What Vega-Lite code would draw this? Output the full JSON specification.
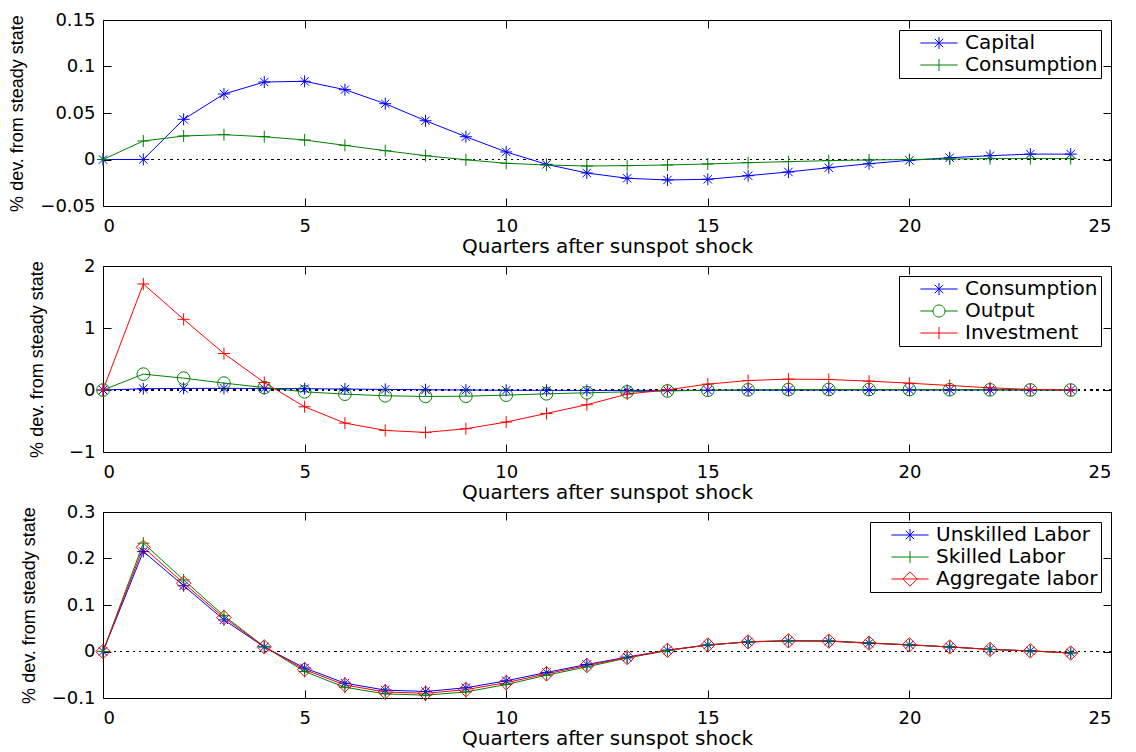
{
"$schema": "https://vega.github.io/schema/vega-lite/v6.json",
"padding": {"left": 8, "top": 10, "right": 5, "bottom": 2},
"spacing": -1,
"resolve": {"scale": {"color": "independent", "x": "independent", "y": "independent"}, "legend": {"color": "independent"}},
"config": {
  "view": {"stroke": "black", "strokeWidth": 1},
  "axis": {"labelFont": "DejaVu Sans", "labelFontSize": 18, "labelColor": "black", "tickColor": "black", "tickSize": -8, "domain": false, "grid": false, "titleColor": "black", "titleFontWeight": "normal", "format": ".2~f"},
  "axisX": {"titleFont": "DejaVu Sans", "titleFontSize": 20, "labelPadding": 19, "titlePadding": 1},
  "axisY": {"titleFont": "Liberation Sans", "titleFontSize": 18, "labelPadding": 16},
  "legend": {"orient": "top-right", "offset": 10, "padding": 3, "strokeColor": "black", "fillColor": "white", "labelFont": "DejaVu Sans", "labelFontSize": 20, "labelColor": "black", "symbolSize": 144, "symbolOffset": 27, "labelOffset": 16, "rowPadding": 2, "symbolStrokeWidth": 1, "labelLimit": 400, "title": null}
},
"vconcat": [
{
  "width": 1008, "height": 186,
  "data": {"values": [
{"t":0,"s":"Capital","v":0},{"t":1,"s":"Capital","v":0},{"t":2,"s":"Capital","v":0.0432},{"t":3,"s":"Capital","v":0.0704},{"t":4,"s":"Capital","v":0.0833},{"t":5,"s":"Capital","v":0.0841},{"t":6,"s":"Capital","v":0.0751},{"t":7,"s":"Capital","v":0.060},{"t":8,"s":"Capital","v":0.0417},{"t":9,"s":"Capital","v":0.0245},{"t":10,"s":"Capital","v":0.0081},{"t":11,"s":"Capital","v":-0.0052},{"t":12,"s":"Capital","v":-0.0145},{"t":13,"s":"Capital","v":-0.0202},{"t":14,"s":"Capital","v":-0.022},{"t":15,"s":"Capital","v":-0.0213},{"t":16,"s":"Capital","v":-0.0174},{"t":17,"s":"Capital","v":-0.0134},{"t":18,"s":"Capital","v":-0.0088},{"t":19,"s":"Capital","v":-0.0045},{"t":20,"s":"Capital","v":-0.0009},{"t":21,"s":"Capital","v":0.0019},{"t":22,"s":"Capital","v":0.0041},{"t":23,"s":"Capital","v":0.0058},{"t":24,"s":"Capital","v":0.0058},
{"t":0,"s":"Consumption","v":0},{"t":1,"s":"Consumption","v":0.0199},{"t":2,"s":"Consumption","v":0.0253},{"t":3,"s":"Consumption","v":0.0267},{"t":4,"s":"Consumption","v":0.0245},{"t":5,"s":"Consumption","v":0.021},{"t":6,"s":"Consumption","v":0.0152},{"t":7,"s":"Consumption","v":0.0095},{"t":8,"s":"Consumption","v":0.0041},{"t":9,"s":"Consumption","v":-0.0003},{"t":10,"s":"Consumption","v":-0.0041},{"t":11,"s":"Consumption","v":-0.0059},{"t":12,"s":"Consumption","v":-0.007},{"t":13,"s":"Consumption","v":-0.0066},{"t":14,"s":"Consumption","v":-0.0059},{"t":15,"s":"Consumption","v":-0.0048},{"t":16,"s":"Consumption","v":-0.0034},{"t":17,"s":"Consumption","v":-0.0023},{"t":18,"s":"Consumption","v":-0.0012},{"t":19,"s":"Consumption","v":-0.0005},{"t":20,"s":"Consumption","v":0},{"t":21,"s":"Consumption","v":0.0005},{"t":22,"s":"Consumption","v":0.001},{"t":23,"s":"Consumption","v":0.001},{"t":24,"s":"Consumption","v":0.001}
  ]},
  "layer": [
    {"mark": {"type": "rule", "color": "black", "strokeDash": [1.5, 4.8], "strokeWidth": 1},
     "encoding": {"y": {"datum": 0, "type": "quantitative", "scale": {"domain": [-0.05, 0.15], "nice": false}, "axis": null}}},
    {"mark": {"type": "line", "strokeWidth": 1},
     "encoding": {
       "x": {"field": "t", "type": "quantitative", "scale": {"domain": [0, 25], "nice": false}, "axis": {"values": [0,5,10,15,20,25], "title": "Quarters after sunspot shock"}},
       "y": {"field": "v", "type": "quantitative", "scale": {"domain": [-0.05, 0.15], "nice": false, "zero": false}, "axis": {"values": [-0.05,0,0.05,0.1,0.15], "title": "% dev. from steady state", "titlePadding": 13}},
       "color": {"field": "s", "type": "nominal", "scale": {"domain": ["Capital","Consumption"], "range": ["#0000ff","#008000"]},
         "legend": {"encode": {"symbols": {"update": {"shape": {"signal": "datum.value === 'Capital' ? 'M-3.1,0H3.1M0,-1V1M-0.7,-0.7L0.7,0.7M-0.7,0.7L0.7,-0.7' : 'M-3.1,0H3.1M0,-1V1'"}, "size": {"value": 144}, "fill": {"value": "transparent"}, "strokeWidth": {"value": 1}}}}}}
     }},
    {"transform": [{"filter": "datum.s === 'Capital'"}],
     "mark": {"type": "point", "shape": "M-1,0H1M0,-1V1M-0.7,-0.7L0.7,0.7M-0.7,0.7L0.7,-0.7", "filled": false, "strokeWidth": 1, "size": 144, "opacity": 1},
     "encoding": {
       "x": {"field": "t", "type": "quantitative", "scale": {"domain": [0, 25], "nice": false}, "axis": null},
       "y": {"field": "v", "type": "quantitative", "scale": {"domain": [-0.05, 0.15], "nice": false, "zero": false}, "axis": null},
       "color": {"field": "s", "type": "nominal", "scale": {"domain": ["Capital","Consumption"], "range": ["#0000ff","#008000"]},
         "legend": {"encode": {"symbols": {"update": {"shape": {"signal": "datum.value === 'Capital' ? 'M-3.1,0H3.1M0,-1V1M-0.7,-0.7L0.7,0.7M-0.7,0.7L0.7,-0.7' : 'M-3.1,0H3.1M0,-1V1'"}, "size": {"value": 144}, "fill": {"value": "transparent"}, "strokeWidth": {"value": 1}}}}}}
     }},
    {"transform": [{"filter": "datum.s === 'Consumption'"}],
     "mark": {"type": "point", "shape": "M-1,0H1M0,-1V1", "filled": false, "strokeWidth": 1, "size": 144, "opacity": 1},
     "encoding": {
       "x": {"field": "t", "type": "quantitative", "scale": {"domain": [0, 25], "nice": false}, "axis": null},
       "y": {"field": "v", "type": "quantitative", "scale": {"domain": [-0.05, 0.15], "nice": false, "zero": false}, "axis": null},
       "color": {"field": "s", "type": "nominal", "scale": {"domain": ["Capital","Consumption"], "range": ["#0000ff","#008000"]},
         "legend": {"encode": {"symbols": {"update": {"shape": {"signal": "datum.value === 'Capital' ? 'M-3.1,0H3.1M0,-1V1M-0.7,-0.7L0.7,0.7M-0.7,0.7L0.7,-0.7' : 'M-3.1,0H3.1M0,-1V1'"}, "size": {"value": 144}, "fill": {"value": "transparent"}, "strokeWidth": {"value": 1}}}}}}
     }},
    {"mark": {"type": "point", "opacity": 0},
     "encoding": {
       "x": {"field": "t", "type": "quantitative", "scale": {"domain": [0, 25], "nice": false}, "axis": {"orient": "top", "values": [0,5,10,15,20,25], "labels": false, "title": null}},
       "y": {"field": "v", "type": "quantitative", "scale": {"domain": [-0.05, 0.15], "nice": false, "zero": false}, "axis": {"orient": "right", "values": [-0.05,0,0.05,0.1,0.15], "labels": false, "title": null}}
     }}
  ],
  "resolve": {"axis": {"x": "independent", "y": "independent"}}
},
{
  "width": 1008, "height": 186,
  "data": {"values": [
{"t":0,"s":"Consumption","v":0},{"t":1,"s":"Consumption","v":0.0199},{"t":2,"s":"Consumption","v":0.0253},{"t":3,"s":"Consumption","v":0.0267},{"t":4,"s":"Consumption","v":0.0245},{"t":5,"s":"Consumption","v":0.021},{"t":6,"s":"Consumption","v":0.0152},{"t":7,"s":"Consumption","v":0.0095},{"t":8,"s":"Consumption","v":0.0041},{"t":9,"s":"Consumption","v":-0.0003},{"t":10,"s":"Consumption","v":-0.0041},{"t":11,"s":"Consumption","v":-0.0059},{"t":12,"s":"Consumption","v":-0.007},{"t":13,"s":"Consumption","v":-0.0066},{"t":14,"s":"Consumption","v":-0.0059},{"t":15,"s":"Consumption","v":-0.0048},{"t":16,"s":"Consumption","v":-0.0034},{"t":17,"s":"Consumption","v":-0.0023},{"t":18,"s":"Consumption","v":-0.0012},{"t":19,"s":"Consumption","v":-0.0005},{"t":20,"s":"Consumption","v":0},{"t":21,"s":"Consumption","v":0.0005},{"t":22,"s":"Consumption","v":0.001},{"t":23,"s":"Consumption","v":0.001},{"t":24,"s":"Consumption","v":0.001},
{"t":0,"s":"Output","v":0},{"t":1,"s":"Output","v":0.256},{"t":2,"s":"Output","v":0.191},{"t":3,"s":"Output","v":0.111},{"t":4,"s":"Output","v":0.04},{"t":5,"s":"Output","v":-0.029},{"t":6,"s":"Output","v":-0.067},{"t":7,"s":"Output","v":-0.093},{"t":8,"s":"Output","v":-0.104},{"t":9,"s":"Output","v":-0.1},{"t":10,"s":"Output","v":-0.083},{"t":11,"s":"Output","v":-0.061},{"t":12,"s":"Output","v":-0.045},{"t":13,"s":"Output","v":-0.03},{"t":14,"s":"Output","v":-0.015},{"t":15,"s":"Output","v":-0.005},{"t":16,"s":"Output","v":0.003},{"t":17,"s":"Output","v":0.006},{"t":18,"s":"Output","v":0.008},{"t":19,"s":"Output","v":0.008},{"t":20,"s":"Output","v":0.007},{"t":21,"s":"Output","v":0.005},{"t":22,"s":"Output","v":0.003},{"t":23,"s":"Output","v":0.001},{"t":24,"s":"Output","v":0},
{"t":0,"s":"Investment","v":0},{"t":1,"s":"Investment","v":1.71},{"t":2,"s":"Investment","v":1.14},{"t":3,"s":"Investment","v":0.588},{"t":4,"s":"Investment","v":0.12},{"t":5,"s":"Investment","v":-0.27},{"t":6,"s":"Investment","v":-0.534},{"t":7,"s":"Investment","v":-0.652},{"t":8,"s":"Investment","v":-0.684},{"t":9,"s":"Investment","v":-0.625},{"t":10,"s":"Investment","v":-0.517},{"t":11,"s":"Investment","v":-0.378},{"t":12,"s":"Investment","v":-0.238},{"t":13,"s":"Investment","v":-0.066},{"t":14,"s":"Investment","v":0.003},{"t":15,"s":"Investment","v":0.095},{"t":16,"s":"Investment","v":0.153},{"t":17,"s":"Investment","v":0.175},{"t":18,"s":"Investment","v":0.17},{"t":19,"s":"Investment","v":0.143},{"t":20,"s":"Investment","v":0.11},{"t":21,"s":"Investment","v":0.073},{"t":22,"s":"Investment","v":0.035},{"t":23,"s":"Investment","v":0.01},{"t":24,"s":"Investment","v":0}
  ]},
  "layer": [
    {"mark": {"type": "rule", "color": "black", "strokeDash": [1.5, 4.8], "strokeWidth": 1},
     "encoding": {"y": {"datum": 0, "type": "quantitative", "scale": {"domain": [-1, 2], "nice": false}, "axis": null}}},
    {"mark": {"type": "line", "strokeWidth": 1},
     "encoding": {
       "x": {"field": "t", "type": "quantitative", "scale": {"domain": [0, 25], "nice": false}, "axis": {"values": [0,5,10,15,20,25], "title": "Quarters after sunspot shock"}},
       "y": {"field": "v", "type": "quantitative", "scale": {"domain": [-1, 2], "nice": false, "zero": false}, "axis": {"values": [-1,0,1,2], "title": "% dev. from steady state", "titlePadding": 22}},
       "color": {"field": "s", "type": "nominal", "scale": {"domain": ["Consumption","Output","Investment"], "range": ["#0000ff","#008000","#ff0000"]},
         "legend": {"encode": {"symbols": {"update": {"shape": {"signal": "datum.value === 'Consumption' ? 'M-3.1,0H3.1M0,-1V1M-0.7,-0.7L0.7,0.7M-0.7,0.7L0.7,-0.7' : datum.value === 'Output' ? 'M-3.1,0H-1M1,0H3.1M-1,0A1,1 0 1,1 1,0A1,1 0 1,1 -1,0' : 'M-3.1,0H3.1M0,-1V1'"}, "size": {"value": 144}, "fill": {"value": "transparent"}, "strokeWidth": {"value": 1}}}}}}
     }},
    {"transform": [{"filter": "datum.s === 'Consumption'"}],
     "mark": {"type": "point", "shape": "M-1,0H1M0,-1V1M-0.7,-0.7L0.7,0.7M-0.7,0.7L0.7,-0.7", "filled": false, "strokeWidth": 1, "size": 144, "opacity": 1},
     "encoding": {
       "x": {"field": "t", "type": "quantitative", "scale": {"domain": [0, 25], "nice": false}, "axis": null},
       "y": {"field": "v", "type": "quantitative", "scale": {"domain": [-1, 2], "nice": false, "zero": false}, "axis": null},
       "color": {"field": "s", "type": "nominal", "scale": {"domain": ["Consumption","Output","Investment"], "range": ["#0000ff","#008000","#ff0000"]},
         "legend": {"encode": {"symbols": {"update": {"shape": {"signal": "datum.value === 'Consumption' ? 'M-3.1,0H3.1M0,-1V1M-0.7,-0.7L0.7,0.7M-0.7,0.7L0.7,-0.7' : datum.value === 'Output' ? 'M-3.1,0H-1M1,0H3.1M-1,0A1,1 0 1,1 1,0A1,1 0 1,1 -1,0' : 'M-3.1,0H3.1M0,-1V1'"}, "size": {"value": 144}, "fill": {"value": "transparent"}, "strokeWidth": {"value": 1}}}}}}
     }},
    {"transform": [{"filter": "datum.s === 'Output'"}],
     "mark": {"type": "point", "shape": "circle", "filled": false, "strokeWidth": 1, "size": 160, "opacity": 1},
     "encoding": {
       "x": {"field": "t", "type": "quantitative", "scale": {"domain": [0, 25], "nice": false}, "axis": null},
       "y": {"field": "v", "type": "quantitative", "scale": {"domain": [-1, 2], "nice": false, "zero": false}, "axis": null},
       "color": {"field": "s", "type": "nominal", "scale": {"domain": ["Consumption","Output","Investment"], "range": ["#0000ff","#008000","#ff0000"]},
         "legend": {"encode": {"symbols": {"update": {"shape": {"signal": "datum.value === 'Consumption' ? 'M-3.1,0H3.1M0,-1V1M-0.7,-0.7L0.7,0.7M-0.7,0.7L0.7,-0.7' : datum.value === 'Output' ? 'M-3.1,0H-1M1,0H3.1M-1,0A1,1 0 1,1 1,0A1,1 0 1,1 -1,0' : 'M-3.1,0H3.1M0,-1V1'"}, "size": {"value": 144}, "fill": {"value": "transparent"}, "strokeWidth": {"value": 1}}}}}}
     }},
    {"transform": [{"filter": "datum.s === 'Investment'"}],
     "mark": {"type": "point", "shape": "M-1,0H1M0,-1V1", "filled": false, "strokeWidth": 1, "size": 144, "opacity": 1},
     "encoding": {
       "x": {"field": "t", "type": "quantitative", "scale": {"domain": [0, 25], "nice": false}, "axis": null},
       "y": {"field": "v", "type": "quantitative", "scale": {"domain": [-1, 2], "nice": false, "zero": false}, "axis": null},
       "color": {"field": "s", "type": "nominal", "scale": {"domain": ["Consumption","Output","Investment"], "range": ["#0000ff","#008000","#ff0000"]},
         "legend": {"encode": {"symbols": {"update": {"shape": {"signal": "datum.value === 'Consumption' ? 'M-3.1,0H3.1M0,-1V1M-0.7,-0.7L0.7,0.7M-0.7,0.7L0.7,-0.7' : datum.value === 'Output' ? 'M-3.1,0H-1M1,0H3.1M-1,0A1,1 0 1,1 1,0A1,1 0 1,1 -1,0' : 'M-3.1,0H3.1M0,-1V1'"}, "size": {"value": 144}, "fill": {"value": "transparent"}, "strokeWidth": {"value": 1}}}}}}
     }},
    {"mark": {"type": "point", "opacity": 0},
     "encoding": {
       "x": {"field": "t", "type": "quantitative", "scale": {"domain": [0, 25], "nice": false}, "axis": {"orient": "top", "values": [0,5,10,15,20,25], "labels": false, "title": null}},
       "y": {"field": "v", "type": "quantitative", "scale": {"domain": [-1, 2], "nice": false, "zero": false}, "axis": {"orient": "right", "values": [-1,0,1,2], "labels": false, "title": null}}
     }}
  ],
  "resolve": {"axis": {"x": "independent", "y": "independent"}}
},
{
  "width": 1008, "height": 186,
  "data": {"values": [
{"t":0,"s":"Unskilled Labor","v":0},{"t":1,"s":"Unskilled Labor","v":0.215},{"t":2,"s":"Unskilled Labor","v":0.1415},{"t":3,"s":"Unskilled Labor","v":0.068},{"t":4,"s":"Unskilled Labor","v":0.0097},{"t":5,"s":"Unskilled Labor","v":-0.0355},{"t":6,"s":"Unskilled Labor","v":-0.068},{"t":7,"s":"Unskilled Labor","v":-0.083},{"t":8,"s":"Unskilled Labor","v":-0.086},{"t":9,"s":"Unskilled Labor","v":-0.078},{"t":10,"s":"Unskilled Labor","v":-0.063},{"t":11,"s":"Unskilled Labor","v":-0.045},{"t":12,"s":"Unskilled Labor","v":-0.028},{"t":13,"s":"Unskilled Labor","v":-0.012},{"t":14,"s":"Unskilled Labor","v":0.003},{"t":15,"s":"Unskilled Labor","v":0.014},{"t":16,"s":"Unskilled Labor","v":0.0205},{"t":17,"s":"Unskilled Labor","v":0.0228},{"t":18,"s":"Unskilled Labor","v":0.0222},{"t":19,"s":"Unskilled Labor","v":0.0178},{"t":20,"s":"Unskilled Labor","v":0.0142},{"t":21,"s":"Unskilled Labor","v":0.0098},{"t":22,"s":"Unskilled Labor","v":0.0046},{"t":23,"s":"Unskilled Labor","v":0.0014},{"t":24,"s":"Unskilled Labor","v":-0.003},
{"t":0,"s":"Skilled Labor","v":0},{"t":1,"s":"Skilled Labor","v":0.233},{"t":2,"s":"Skilled Labor","v":0.154},{"t":3,"s":"Skilled Labor","v":0.077},{"t":4,"s":"Skilled Labor","v":0.0105},{"t":5,"s":"Skilled Labor","v":-0.043},{"t":6,"s":"Skilled Labor","v":-0.077},{"t":7,"s":"Skilled Labor","v":-0.091},{"t":8,"s":"Skilled Labor","v":-0.094},{"t":9,"s":"Skilled Labor","v":-0.087},{"t":10,"s":"Skilled Labor","v":-0.071},{"t":11,"s":"Skilled Labor","v":-0.051},{"t":12,"s":"Skilled Labor","v":-0.033},{"t":13,"s":"Skilled Labor","v":-0.014},{"t":14,"s":"Skilled Labor","v":0.002},{"t":15,"s":"Skilled Labor","v":0.014},{"t":16,"s":"Skilled Labor","v":0.021},{"t":17,"s":"Skilled Labor","v":0.0235},{"t":18,"s":"Skilled Labor","v":0.023},{"t":19,"s":"Skilled Labor","v":0.0185},{"t":20,"s":"Skilled Labor","v":0.0145},{"t":21,"s":"Skilled Labor","v":0.0098},{"t":22,"s":"Skilled Labor","v":0.0045},{"t":23,"s":"Skilled Labor","v":0.0012},{"t":24,"s":"Skilled Labor","v":-0.0033},
{"t":0,"s":"Aggregate labor","v":0},{"t":1,"s":"Aggregate labor","v":0.224},{"t":2,"s":"Aggregate labor","v":0.147},{"t":3,"s":"Aggregate labor","v":0.073},{"t":4,"s":"Aggregate labor","v":0.01},{"t":5,"s":"Aggregate labor","v":-0.039},{"t":6,"s":"Aggregate labor","v":-0.072},{"t":7,"s":"Aggregate labor","v":-0.087},{"t":8,"s":"Aggregate labor","v":-0.09},{"t":9,"s":"Aggregate labor","v":-0.082},{"t":10,"s":"Aggregate labor","v":-0.067},{"t":11,"s":"Aggregate labor","v":-0.048},{"t":12,"s":"Aggregate labor","v":-0.03},{"t":13,"s":"Aggregate labor","v":-0.013},{"t":14,"s":"Aggregate labor","v":0.0025},{"t":15,"s":"Aggregate labor","v":0.014},{"t":16,"s":"Aggregate labor","v":0.0207},{"t":17,"s":"Aggregate labor","v":0.023},{"t":18,"s":"Aggregate labor","v":0.0225},{"t":19,"s":"Aggregate labor","v":0.018},{"t":20,"s":"Aggregate labor","v":0.0143},{"t":21,"s":"Aggregate labor","v":0.0098},{"t":22,"s":"Aggregate labor","v":0.0045},{"t":23,"s":"Aggregate labor","v":0.0013},{"t":24,"s":"Aggregate labor","v":-0.0032}
  ]},
  "layer": [
    {"mark": {"type": "rule", "color": "black", "strokeDash": [1.5, 4.8], "strokeWidth": 1},
     "encoding": {"y": {"datum": 0, "type": "quantitative", "scale": {"domain": [-0.1, 0.3], "nice": false}, "axis": null}}},
    {"mark": {"type": "line", "strokeWidth": 1},
     "encoding": {
       "x": {"field": "t", "type": "quantitative", "scale": {"domain": [0, 25], "nice": false}, "axis": {"values": [0,5,10,15,20,25], "title": "Quarters after sunspot shock"}},
       "y": {"field": "v", "type": "quantitative", "scale": {"domain": [-0.1, 0.3], "nice": false, "zero": false}, "axis": {"values": [-0.1,0,0.1,0.2,0.3], "title": "% dev. from steady state", "titlePadding": 13}},
       "color": {"field": "s", "type": "nominal", "scale": {"domain": ["Unskilled Labor","Skilled Labor","Aggregate labor"], "range": ["#0000ff","#008000","#ff0000"]},
         "legend": {"encode": {"symbols": {"update": {"shape": {"signal": "datum.value === 'Unskilled Labor' ? 'M-3.1,0H3.1M0,-1V1M-0.7,-0.7L0.7,0.7M-0.7,0.7L0.7,-0.7' : datum.value === 'Skilled Labor' ? 'M-3.1,0H3.1M0,-1V1' : 'M-3.1,0H3.1M0,-1.2L1.2,0L0,1.2L-1.2,0Z'"}, "size": {"value": 144}, "fill": {"value": "transparent"}, "strokeWidth": {"value": 1}}}}}}
     }},
    {"transform": [{"filter": "datum.s === 'Unskilled Labor'"}],
     "mark": {"type": "point", "shape": "M-1,0H1M0,-1V1M-0.7,-0.7L0.7,0.7M-0.7,0.7L0.7,-0.7", "filled": false, "strokeWidth": 1, "size": 144, "opacity": 1},
     "encoding": {
       "x": {"field": "t", "type": "quantitative", "scale": {"domain": [0, 25], "nice": false}, "axis": null},
       "y": {"field": "v", "type": "quantitative", "scale": {"domain": [-0.1, 0.3], "nice": false, "zero": false}, "axis": null},
       "color": {"field": "s", "type": "nominal", "scale": {"domain": ["Unskilled Labor","Skilled Labor","Aggregate labor"], "range": ["#0000ff","#008000","#ff0000"]},
         "legend": {"encode": {"symbols": {"update": {"shape": {"signal": "datum.value === 'Unskilled Labor' ? 'M-3.1,0H3.1M0,-1V1M-0.7,-0.7L0.7,0.7M-0.7,0.7L0.7,-0.7' : datum.value === 'Skilled Labor' ? 'M-3.1,0H3.1M0,-1V1' : 'M-3.1,0H3.1M0,-1.2L1.2,0L0,1.2L-1.2,0Z'"}, "size": {"value": 144}, "fill": {"value": "transparent"}, "strokeWidth": {"value": 1}}}}}}
     }},
    {"transform": [{"filter": "datum.s === 'Skilled Labor'"}],
     "mark": {"type": "point", "shape": "M-1,0H1M0,-1V1", "filled": false, "strokeWidth": 1, "size": 144, "opacity": 1},
     "encoding": {
       "x": {"field": "t", "type": "quantitative", "scale": {"domain": [0, 25], "nice": false}, "axis": null},
       "y": {"field": "v", "type": "quantitative", "scale": {"domain": [-0.1, 0.3], "nice": false, "zero": false}, "axis": null},
       "color": {"field": "s", "type": "nominal", "scale": {"domain": ["Unskilled Labor","Skilled Labor","Aggregate labor"], "range": ["#0000ff","#008000","#ff0000"]},
         "legend": {"encode": {"symbols": {"update": {"shape": {"signal": "datum.value === 'Unskilled Labor' ? 'M-3.1,0H3.1M0,-1V1M-0.7,-0.7L0.7,0.7M-0.7,0.7L0.7,-0.7' : datum.value === 'Skilled Labor' ? 'M-3.1,0H3.1M0,-1V1' : 'M-3.1,0H3.1M0,-1.2L1.2,0L0,1.2L-1.2,0Z'"}, "size": {"value": 144}, "fill": {"value": "transparent"}, "strokeWidth": {"value": 1}}}}}}
     }},
    {"transform": [{"filter": "datum.s === 'Aggregate labor'"}],
     "mark": {"type": "point", "shape": "M0,-1.2L1.2,0L0,1.2L-1.2,0Z", "filled": false, "strokeWidth": 1, "size": 144, "opacity": 1},
     "encoding": {
       "x": {"field": "t", "type": "quantitative", "scale": {"domain": [0, 25], "nice": false}, "axis": null},
       "y": {"field": "v", "type": "quantitative", "scale": {"domain": [-0.1, 0.3], "nice": false, "zero": false}, "axis": null},
       "color": {"field": "s", "type": "nominal", "scale": {"domain": ["Unskilled Labor","Skilled Labor","Aggregate labor"], "range": ["#0000ff","#008000","#ff0000"]},
         "legend": {"encode": {"symbols": {"update": {"shape": {"signal": "datum.value === 'Unskilled Labor' ? 'M-3.1,0H3.1M0,-1V1M-0.7,-0.7L0.7,0.7M-0.7,0.7L0.7,-0.7' : datum.value === 'Skilled Labor' ? 'M-3.1,0H3.1M0,-1V1' : 'M-3.1,0H3.1M0,-1.2L1.2,0L0,1.2L-1.2,0Z'"}, "size": {"value": 144}, "fill": {"value": "transparent"}, "strokeWidth": {"value": 1}}}}}}
     }},
    {"mark": {"type": "point", "opacity": 0},
     "encoding": {
       "x": {"field": "t", "type": "quantitative", "scale": {"domain": [0, 25], "nice": false}, "axis": {"orient": "top", "values": [0,5,10,15,20,25], "labels": false, "title": null}},
       "y": {"field": "v", "type": "quantitative", "scale": {"domain": [-0.1, 0.3], "nice": false, "zero": false}, "axis": {"orient": "right", "values": [-0.1,0,0.1,0.2,0.3], "labels": false, "title": null}}
     }}
  ],
  "resolve": {"axis": {"x": "independent", "y": "independent"}}
}
]
}
